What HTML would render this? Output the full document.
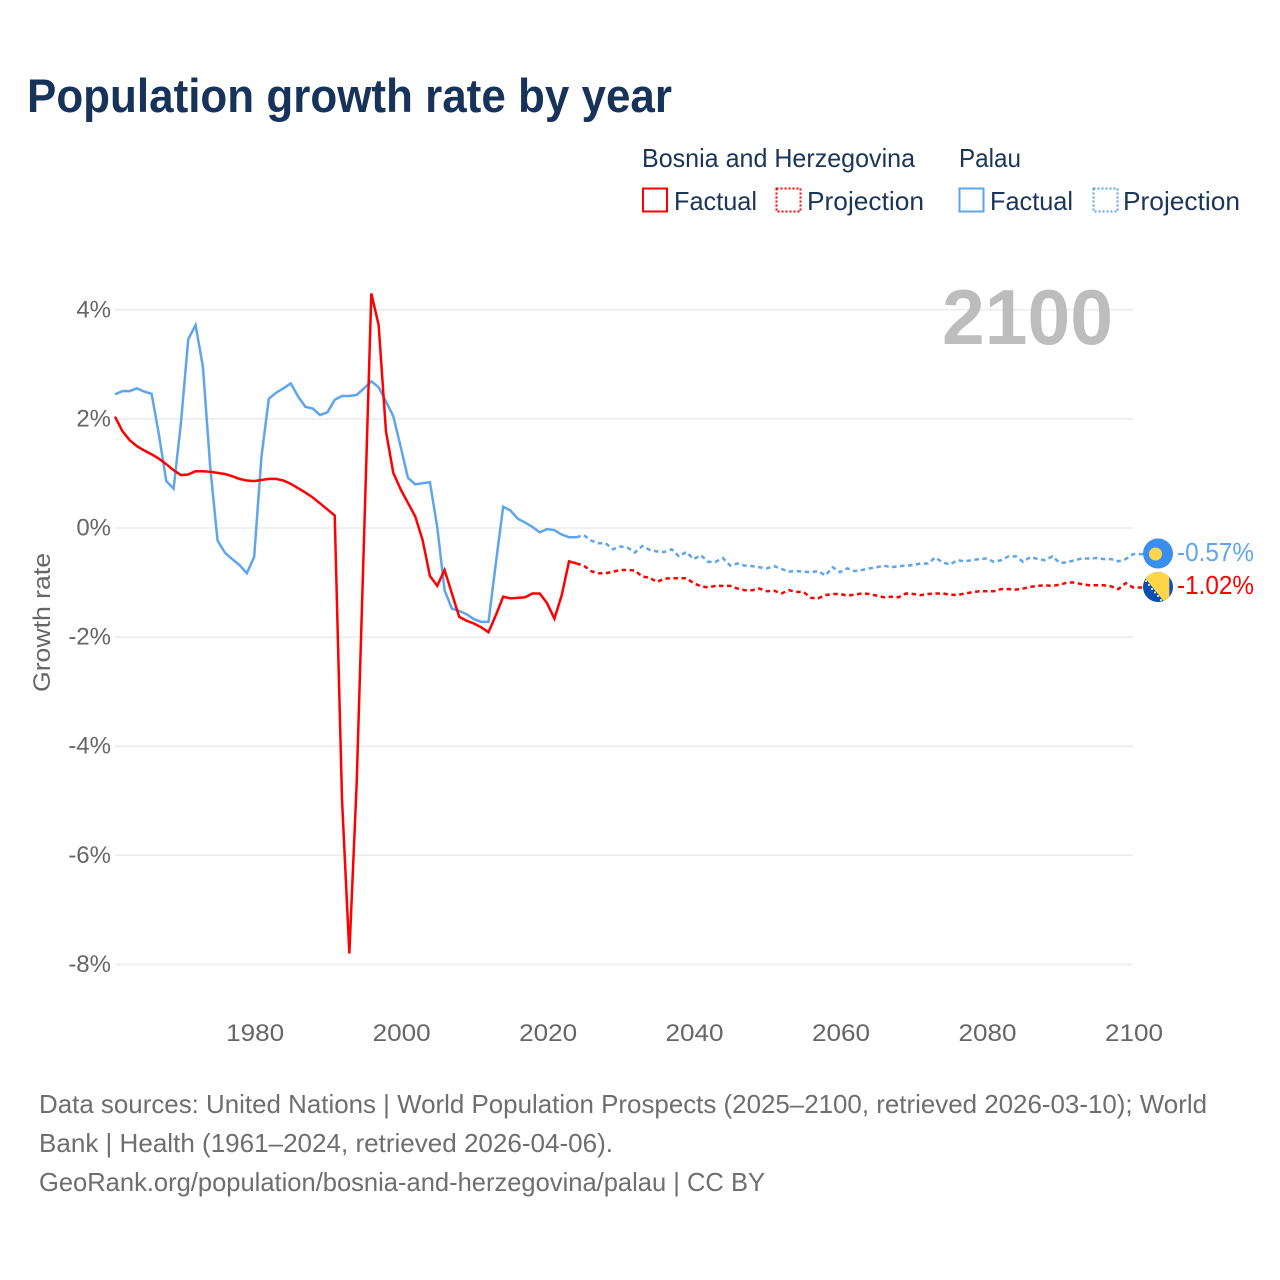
<!DOCTYPE html>
<html lang="en">
<head>
<meta charset="utf-8">
<title>Population growth rate by year</title>
<style>
html,body{margin:0;padding:0;background:#fff;}
svg{display:block;font-family:"Liberation Sans",sans-serif;}
</style>
</head>
<body>
<svg id="chart" width="1280" height="1280" viewBox="0 0 1280 1280" xmlns="http://www.w3.org/2000/svg">
  <rect x="0" y="0" width="1280" height="1280" fill="#ffffff"/>
  <text x="27" y="112" font-size="47" font-weight="700" fill="#17335a" textLength="645" lengthAdjust="spacingAndGlyphs">Population growth rate by year</text>

  <g font-size="26" fill="#1b3558">
    <text x="642" y="167" textLength="273" lengthAdjust="spacingAndGlyphs">Bosnia and Herzegovina</text>
    <text x="959" y="167" textLength="62" lengthAdjust="spacingAndGlyphs">Palau</text>
    <g>
      <rect x="643" y="188.500" width="24" height="23" fill="none" stroke="#ff0000" stroke-width="2"/>
      <text x="674" y="210" textLength="83" lengthAdjust="spacingAndGlyphs">Factual</text>
    </g>
    <g>
      <rect x="776.500" y="188.500" width="24" height="23" fill="none" stroke="#ff0000" stroke-width="2" stroke-dasharray="2 2"/>
      <text x="807" y="210" textLength="117" lengthAdjust="spacingAndGlyphs">Projection</text>
    </g>
    <g>
      <rect x="959.500" y="188.500" width="24" height="23" fill="none" stroke="#5ea5ee" stroke-width="2"/>
      <text x="990" y="210" textLength="83" lengthAdjust="spacingAndGlyphs">Factual</text>
    </g>
    <g>
      <rect x="1093.500" y="188.500" width="24" height="23" fill="none" stroke="#5ea5ee" stroke-width="2" stroke-dasharray="2 2"/>
      <text x="1123" y="210" textLength="117" lengthAdjust="spacingAndGlyphs">Projection</text>
    </g>
  </g>

  <g id="grid"></g>
  <text x="1113" y="344" text-anchor="end" font-size="78" font-weight="700" fill="#bdbdbd" textLength="171" lengthAdjust="spacingAndGlyphs">2100</text>
  <g id="yticks" font-size="24" fill="#666666" text-anchor="end"></g>
  <g id="xticks" font-size="24" fill="#666666" text-anchor="middle"></g>
  <text transform="translate(50,622.500) rotate(-90)" text-anchor="middle" font-size="24" fill="#666666" textLength="139" lengthAdjust="spacingAndGlyphs">Growth rate</text>
  <g id="series"></g>

  <defs>
    <clipPath id="flag-clip-ba"><circle cx="1158" cy="587" r="15"/></clipPath>
  </defs>
  <g>
    <circle cx="1158" cy="553.500" r="15" fill="#3a8ef0"/>
    <circle cx="1155.500" cy="554" r="6.500" fill="#ffd54a"/>
  </g>
  <g clip-path="url(#flag-clip-ba)">
    <rect x="1143" y="572" width="30" height="30" fill="#0b4fb0"/>
    <polygon points="1138.500,570 1169.300,570 1169.300,608" fill="#ffd54a"/>
    <g fill="#ffffff">
      <circle cx="1146" cy="581" r="1"/><circle cx="1149" cy="585" r="1"/><circle cx="1152" cy="589" r="1"/>
      <circle cx="1155" cy="592.500" r="1"/><circle cx="1158" cy="596" r="1"/><circle cx="1161" cy="600" r="1"/>
    </g>
  </g>
  <text x="1177" y="561" font-size="26" fill="#5ea5ee" textLength="77" lengthAdjust="spacingAndGlyphs">-0.57%</text>
  <text x="1177" y="594" font-size="26" fill="#ff0000" textLength="77" lengthAdjust="spacingAndGlyphs">-1.02%</text>

  <g font-size="26" fill="#6e6e6e">
    <text x="39" y="1113" textLength="1168" lengthAdjust="spacingAndGlyphs">Data sources: United Nations | World Population Prospects (2025–2100, retrieved 2026-03-10); World</text>
    <text x="39" y="1152" textLength="574" lengthAdjust="spacingAndGlyphs">Bank | Health (1961–2024, retrieved 2026-04-06).</text>
    <text x="39" y="1191" textLength="726" lengthAdjust="spacingAndGlyphs">GeoRank.org/population/bosnia-and-herzegovina/palau | CC BY</text>
  </g>
</svg>
<script>
const firstYear = 1961;
const lastFactualYear = 2024;
const xTickLabels = [1980, 2000, 2020, 2040, 2060, 2080, 2100];
const yTickLabels = [4, 2, 0, -2, -4, -6, -8];

const bosniaFactual = [
  2.04, 1.78, 1.61, 1.50, 1.42, 1.35, 1.27, 1.17, 1.06, 0.97,
  0.98, 1.04, 1.04, 1.03, 1.01, 0.99, 0.95, 0.90, 0.87, 0.86,
  0.88, 0.90, 0.90, 0.87, 0.81, 0.73, 0.65, 0.56, 0.45, 0.34,
  0.23, -4.99, -7.80, -4.68, -0.20, 4.30, 3.72, 1.77, 1.01, 0.71,
  0.46, 0.21, -0.22, -0.88, -1.06, -0.77, -1.20, -1.63, -1.70, -1.75,
  -1.82, -1.91, -1.60, -1.26, -1.29, -1.28, -1.27, -1.20, -1.20, -1.38,
  -1.66, -1.23, -0.61, -0.65
];
const palauFactual = [
  2.45, 2.51, 2.51, 2.56, 2.50, 2.46, 1.71, 0.86, 0.72, 1.92,
  3.46, 3.72, 2.96, 1.12, -0.23, -0.45, -0.57, -0.68, -0.83, -0.53,
  1.31, 2.37, 2.48, 2.56, 2.65, 2.41, 2.22, 2.19, 2.07, 2.12,
  2.35, 2.42, 2.42, 2.44, 2.56, 2.69, 2.58, 2.32, 2.05, 1.49,
  0.92, 0.80, 0.82, 0.84, 0.02, -1.14, -1.48, -1.52, -1.58, -1.67,
  -1.72, -1.72, -0.65, 0.39, 0.32, 0.17, 0.10, 0.02, -0.08, -0.02,
  -0.04, -0.12, -0.17, -0.17
];
const bosniaProjection = [
  -0.69, -0.79, -0.83, -0.83, -0.80, -0.77, -0.77, -0.78, -0.89, -0.91,
  -0.99, -0.93, -0.92, -0.92, -0.92, -1.01, -1.07, -1.09, -1.06, -1.06,
  -1.06, -1.11, -1.14, -1.14, -1.11, -1.16, -1.15, -1.20, -1.14, -1.17,
  -1.17, -1.28, -1.29, -1.23, -1.21, -1.21, -1.24, -1.22, -1.20, -1.21,
  -1.24, -1.27, -1.26, -1.27, -1.20, -1.21, -1.23, -1.21, -1.20, -1.20,
  -1.22, -1.23, -1.20, -1.18, -1.16, -1.16, -1.16, -1.12, -1.12, -1.13,
  -1.11, -1.08, -1.06, -1.05, -1.06, -1.04, -1.00, -1.00, -1.03, -1.05,
  -1.05, -1.05, -1.07, -1.12, -1.01, -1.09
];
const palauProjection = [
  -0.13, -0.23, -0.28, -0.28, -0.39, -0.34, -0.36, -0.45, -0.33, -0.40,
  -0.43, -0.44, -0.39, -0.52, -0.44, -0.57, -0.50, -0.62, -0.62, -0.55,
  -0.69, -0.65, -0.69, -0.70, -0.72, -0.74, -0.70, -0.75, -0.80, -0.79,
  -0.80, -0.81, -0.79, -0.87, -0.72, -0.81, -0.74, -0.79, -0.77, -0.74,
  -0.72, -0.69, -0.72, -0.70, -0.69, -0.68, -0.65, -0.65, -0.54, -0.63,
  -0.67, -0.59, -0.61, -0.59, -0.57, -0.56, -0.62, -0.59, -0.52, -0.52,
  -0.62, -0.53, -0.57, -0.59, -0.52, -0.64, -0.63, -0.59, -0.56, -0.56,
  -0.55, -0.57, -0.57, -0.61, -0.57, -0.48
];

const NS = 'http://www.w3.org/2000/svg';
const plotLeft = 115, plotRight = 1133, zeroY = 528, unitY = 54.55, spanYears = 139, flagEdge = 1143;
function xScale(year) { return plotLeft + (year - firstYear) * (plotRight - plotLeft) / spanYears; }
function yScale(value) { return zeroY - value * unitY; }
function pointsFor(values, startYear) {
  return values.map(function (v, i) { return xScale(startYear + i).toFixed(2) + ',' + yScale(v).toFixed(2); });
}

const grid = document.getElementById('grid');
const yticks = document.getElementById('yticks');
yTickLabels.forEach(function (v) {
  const line = document.createElementNS(NS, 'line');
  
  
  line.setAttribute('x1', plotLeft);
  line.setAttribute('x2', plotRight);
  line.setAttribute('y1', yScale(v));
  line.setAttribute('y2', yScale(v));
  line.setAttribute('stroke', '#ebebeb');
  line.setAttribute('stroke-width', '1.5');
  grid.appendChild(line);
  const t = document.createElementNS(NS, 'text');
  
  
  t.setAttribute('x', 111);
  t.setAttribute('y', yScale(v) + 7.5);
  t.textContent = v + '%';
  yticks.appendChild(t);
});

const xticks = document.getElementById('xticks');
xTickLabels.forEach(function (yr) {
  const t = document.createElementNS(NS, 'text');
  
  
  t.setAttribute('x', xScale(yr) + 1);
  t.setAttribute('y', 1041);
  t.setAttribute('textLength', '58');
  t.setAttribute('lengthAdjust', 'spacingAndGlyphs');
  t.textContent = yr;
  xticks.appendChild(t);
});

const seriesGroup = document.getElementById('series');
function drawLine(points, color, dashed, name) {
  const p = document.createElementNS(NS, 'polyline');
  
  
  p.setAttribute('points', points.join(' '));
  p.setAttribute('fill', 'none');
  p.setAttribute('stroke', color);
  p.setAttribute('stroke-width', '2.5');
  p.setAttribute('stroke-linejoin', 'miter');
  if (dashed) p.setAttribute('stroke-dasharray', '4.5 3.5');
  seriesGroup.appendChild(p);
}
function drawSeries(factual, projection, color, label) {
  drawLine(pointsFor(factual, firstYear), color, false, label + '-factual-line');
  const joined = [factual[factual.length - 1]].concat(projection);
  const pts = pointsFor(joined, lastFactualYear);
  pts.push(flagEdge + ',' + yScale(projection[projection.length - 1]).toFixed(2));
  drawLine(pts, color, true, label + '-projection-line');
}
drawSeries(palauFactual, palauProjection, '#5ea5ee', 'palau');
drawSeries(bosniaFactual, bosniaProjection, '#ff0000', 'bosnia');
</script>
</body>
</html>
